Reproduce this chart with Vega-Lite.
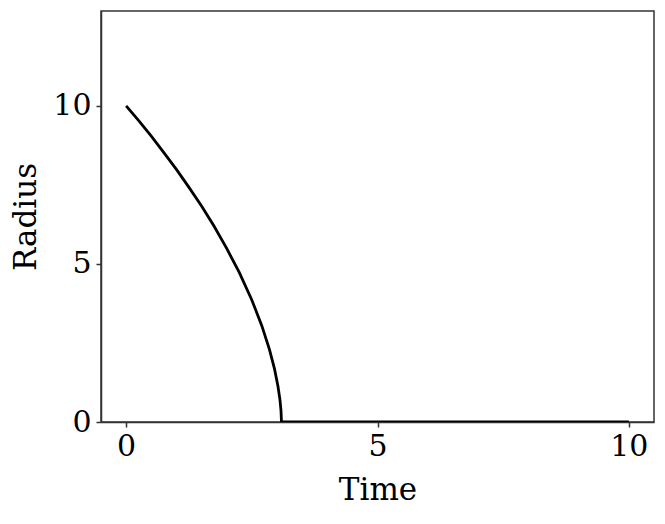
{
  "$schema": "https://vega.github.io/schema/vega-lite/v6.json",
  "autosize": "none",
  "padding": {"left": 101, "top": 11, "right": 11, "bottom": 102},
  "width": 553,
  "height": 411,
  "background": "white",
  "config": {
    "view": {"stroke": "#333333", "strokeWidth": 1.5},
    "font": "DejaVu Serif"
  },
  "data": {
    "values": [
      {"t": 0, "r": 10},
      {"t": 0.25, "r": 9.53},
      {"t": 0.5, "r": 9.04},
      {"t": 0.75, "r": 8.52},
      {"t": 1.0, "r": 7.99},
      {"t": 1.25, "r": 7.42},
      {"t": 1.5, "r": 6.83},
      {"t": 1.75, "r": 6.19},
      {"t": 2.0, "r": 5.49},
      {"t": 2.25, "r": 4.73},
      {"t": 2.5, "r": 3.86},
      {"t": 2.7, "r": 3.04},
      {"t": 2.85, "r": 2.30},
      {"t": 2.95, "r": 1.69},
      {"t": 3.02, "r": 1.13},
      {"t": 3.06, "r": 0.70},
      {"t": 3.08, "r": 0.37},
      {"t": 3.09, "r": 0},
      {"t": 5, "r": 0},
      {"t": 10, "r": 0}
    ]
  },
  "mark": {"type": "line", "color": "black", "strokeWidth": 2.8, "clip": true},
  "encoding": {
    "x": {
      "field": "t", "type": "quantitative",
      "scale": {"domain": [-0.5, 10.5], "nice": false, "zero": false},
      "axis": {
        "title": "Time", "values": [0, 5, 10], "grid": false,
        "domainColor": "#333333", "domainWidth": 1.5,
        "tickColor": "#333333", "tickWidth": 1.5, "tickSize": 5,
        "labelFontSize": 30, "labelColor": "black", "labelPadding": 4,
        "titleFontSize": 31, "titleFontWeight": "normal", "titleColor": "black", "titlePadding": 14
      }
    },
    "y": {
      "field": "r", "type": "quantitative",
      "scale": {"domain": [0, 13], "nice": false},
      "axis": {
        "title": "Radius", "values": [0, 5, 10], "grid": false,
        "domainColor": "#333333", "domainWidth": 1.5,
        "tickColor": "#333333", "tickWidth": 1.5, "tickSize": 5,
        "labelFontSize": 30, "labelColor": "black", "labelPadding": 5,
        "titleFontSize": 31, "titleFontWeight": "normal", "titleColor": "black", "titlePadding": 10
      }
    }
  }
}
